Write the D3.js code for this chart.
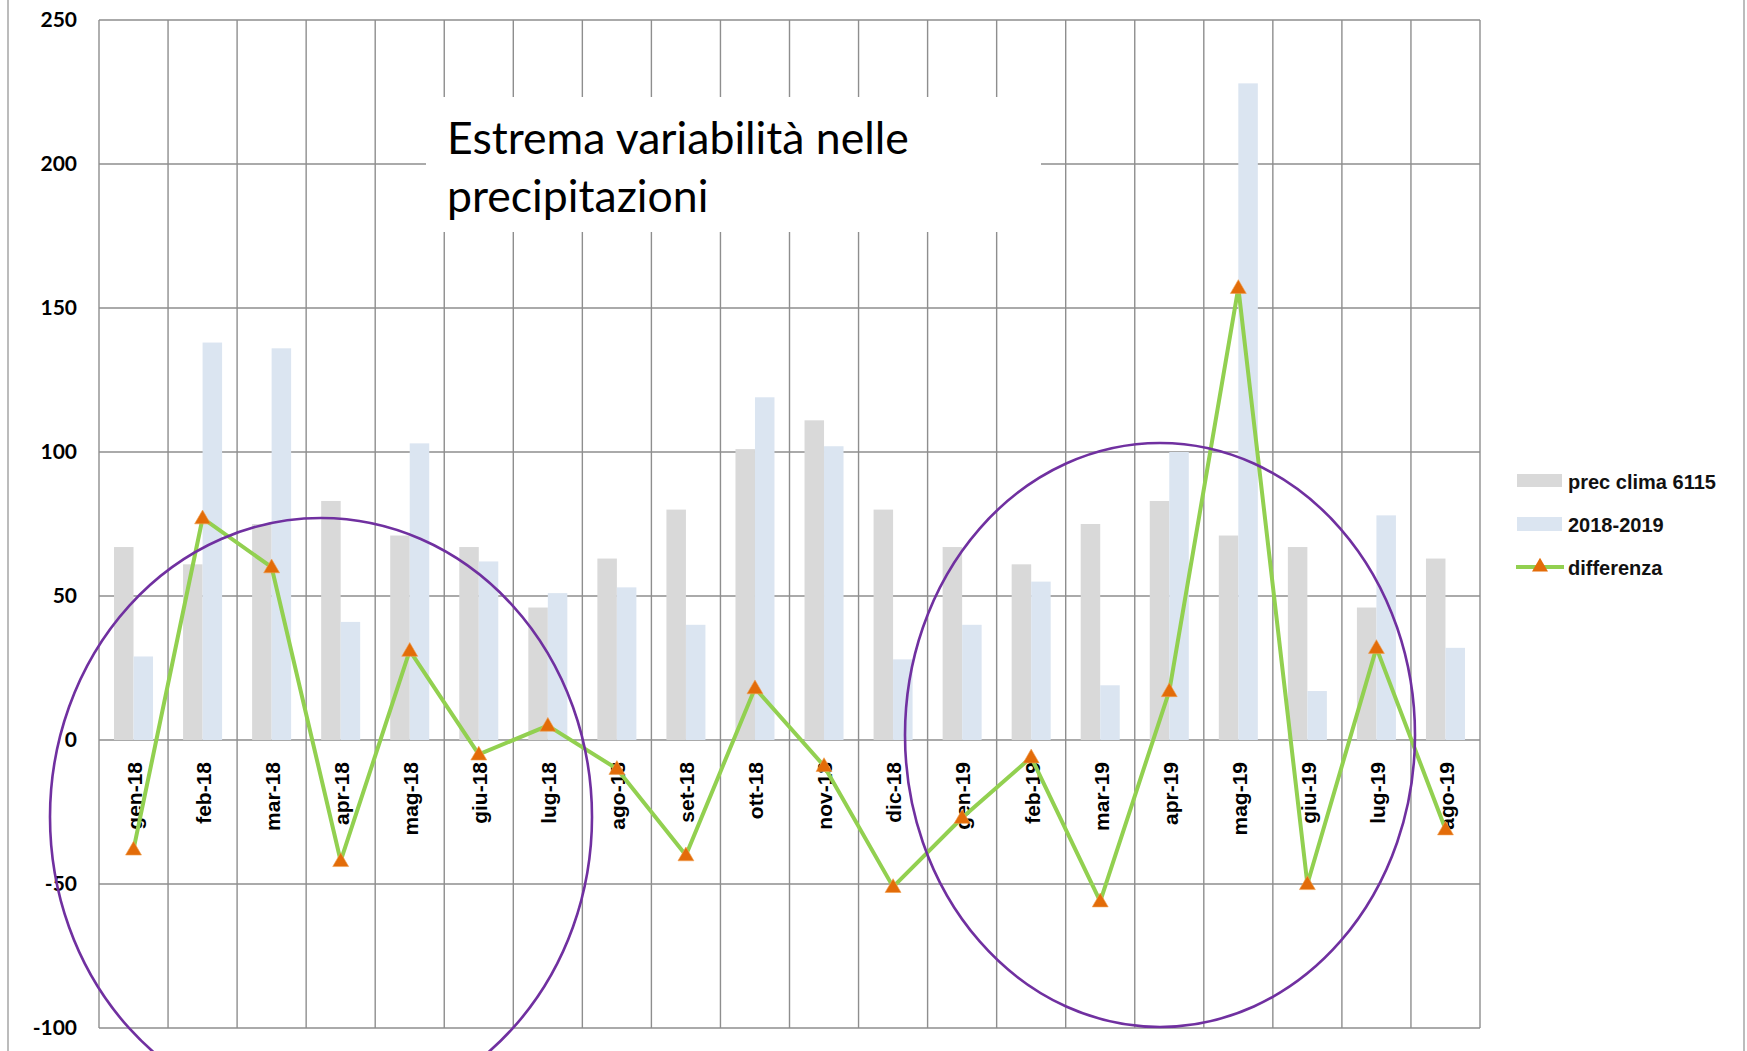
<!DOCTYPE html>
<html>
<head>
<meta charset="utf-8">
<script src="https://cdn.jsdelivr.net/npm/d3@7"></script>
<style>
  html, body { margin: 0; padding: 0; background: #fff; }
  svg { display: block; }
</style>
</head>
<body>
<svg id="chart" width="1747" height="1051"></svg>
<script>
// ---- data ----
const months = ["gen-18","feb-18","mar-18","apr-18","mag-18","giu-18","lug-18","ago-18","set-18","ott-18","nov-18","dic-18",
                "gen-19","feb-19","mar-19","apr-19","mag-19","giu-19","lug-19","ago-19"];
const precClima = [67, 61, 75, 83, 71, 67, 46, 63, 80, 101, 111, 80, 67, 61, 75, 83, 71, 67, 46, 63];
const anno2018_2019 = [29, 138, 136, 41, 103, 62, 51, 53, 40, 119, 102, 28, 40, 55, 19, 100, 228, 17, 78, 32];
const differenza = [-38, 77, 60, -42, 31, -5, 5, -10, -40, 18, -9, -51, -27, -6, -56, 17, 157, -50, 32, -31];
const yTicks = [-100, -50, 0, 50, 100, 150, 200, 250];
const seriesNames = ["prec clima 6115", "2018-2019", "differenza"];
const titleLines = ["Estrema variabilità nelle", "precipitazioni"];

// ---- layout / style ----
const W = 1747, H = 1051;
const plot = { left: 99, right: 1480, top: 20, bottom: 1028 };
const colors = { clima: "#d9d9d9", anno: "#dbe5f1", line: "#92d050", marker: "#e36c09", grid: "#8e8e8e", ellipse: "#7030a0" };

const svg = d3.select("#chart");
svg.append("rect").attr("width", W).attr("height", H).attr("fill", "#fff");

// outer frame (vertical edges)
svg.append("line").attr("x1", 8).attr("x2", 8).attr("y1", 0).attr("y2", H).attr("stroke", "#a6a6a6").attr("stroke-width", 1.5);
svg.append("line").attr("x1", 1744).attr("x2", 1744).attr("y1", 0).attr("y2", H).attr("stroke", "#a6a6a6").attr("stroke-width", 1.5);

const x = d3.scaleBand().domain(months).range([plot.left, plot.right]).paddingInner(0).paddingOuter(0);
const xs = d3.scaleBand().domain(["clima", "anno"]).range([0, x.bandwidth()]).paddingInner(0).paddingOuter(0.77);
const y = d3.scaleLinear().domain([-100, 250]).range([plot.bottom, plot.top]);

// horizontal gridlines
const gGrid = svg.append("g");
gGrid.selectAll("line.h").data(yTicks).join("line")
  .attr("x1", plot.left).attr("x2", plot.right)
  .attr("y1", d => y(d)).attr("y2", d => y(d))
  .attr("stroke", colors.grid).attr("stroke-width", 1.4);
// vertical gridlines at category boundaries
const bounds = months.map(m => x(m)).concat([plot.right]);
gGrid.selectAll("line.v").data(bounds).join("line")
  .attr("x1", d => d).attr("x2", d => d)
  .attr("y1", plot.top).attr("y2", plot.bottom)
  .attr("stroke", colors.grid).attr("stroke-width", 1.4);

// y axis labels
const yAxis = d3.axisLeft(y).tickValues(yTicks).tickSize(0).tickPadding(0).tickFormat(d => String(d));
const gY = svg.append("g").attr("transform", "translate(77,0)").call(yAxis);
gY.select(".domain").remove();
gY.selectAll("text")
  .attr("font-family", "Lato, 'Open Sans', sans-serif")
  .attr("font-weight", "bold").attr("font-size", 21).attr("fill", "#000");

// title box
svg.append("rect").attr("x", 426).attr("y", 97).attr("width", 615).attr("height", 135).attr("fill", "#fff");
const titleG = svg.append("g");
const tt = titleG.selectAll("text").data(titleLines).join("text")
  .attr("x", 447).attr("y", (d, i) => 154 + i * 58)
  .attr("font-family", "Lato, 'Open Sans', sans-serif")
  .attr("font-size", 45).attr("fill", "#000").text(d => d);
// fit first line width to ~462px
const w0 = tt.nodes()[0].getComputedTextLength();
const fs = 45 * 462 / w0;
tt.attr("font-size", fs);

// bars
const gBars = svg.append("g");
gBars.selectAll("rect.clima").data(months).join("rect")
  .attr("x", (d) => x(d) + xs("clima")).attr("width", xs.bandwidth())
  .attr("y", (d, i) => y(precClima[i])).attr("height", (d, i) => y(0) - y(precClima[i]))
  .attr("fill", colors.clima);
gBars.selectAll("rect.anno").data(months).join("rect")
  .attr("x", (d) => x(d) + xs("anno")).attr("width", xs.bandwidth())
  .attr("y", (d, i) => y(anno2018_2019[i])).attr("height", (d, i) => y(0) - y(anno2018_2019[i]))
  .attr("fill", colors.anno);

// x labels (rotated)
const xAxis = d3.axisBottom(x).tickSize(0).tickPadding(0);
const gX = svg.append("g").attr("transform", `translate(0,${y(0)})`).call(xAxis);
gX.select(".domain").remove();
gX.selectAll(".tick text")
  .attr("transform", "translate(1,22) rotate(-90)")
  .attr("x", 0).attr("y", 0).attr("dy", "0.35em")
  .attr("text-anchor", "end")
  .attr("font-family", "'Liberation Sans', Arial, sans-serif")
  .attr("font-weight", "bold").attr("font-size", 21).attr("fill", "#000");

// difference line
const line = d3.line().x((d, i) => x(months[i]) + x.bandwidth() / 2).y(d => y(d));
svg.append("path").datum(differenza).attr("d", line)
  .attr("fill", "none").attr("stroke", colors.line).attr("stroke-width", 4).attr("stroke-linejoin", "round");
const tri = d3.symbol().type(d3.symbolTriangle).size(110);
svg.selectAll("path.mk").data(differenza).join("path")
  .attr("transform", (d, i) => `translate(${x(months[i]) + x.bandwidth() / 2},${y(d) + 1})`)
  .attr("d", tri).attr("fill", colors.marker).attr("stroke", "#f0a050").attr("stroke-width", 0.6);

// annotation ellipses
const ellipses = [
  { cx: 321, cy: 817, rx: 271, ry: 299 },
  { cx: 1160, cy: 735, rx: 255, ry: 292 }
];
svg.selectAll("ellipse").data(ellipses).join("ellipse")
  .attr("cx", d => d.cx).attr("cy", d => d.cy).attr("rx", d => d.rx).attr("ry", d => d.ry)
  .attr("fill", "none").attr("stroke", colors.ellipse).attr("stroke-width", 2.6);

// legend
const lg = svg.append("g");
const rowY = [481, 524, 567];
lg.append("rect").attr("x", 1517).attr("y", rowY[0] - 7).attr("width", 45).attr("height", 13).attr("fill", colors.clima);
lg.append("rect").attr("x", 1517).attr("y", rowY[1] - 7).attr("width", 45).attr("height", 14).attr("fill", colors.anno);
lg.append("line").attr("x1", 1516).attr("x2", 1564).attr("y1", rowY[2]).attr("y2", rowY[2])
  .attr("stroke", colors.line).attr("stroke-width", 4);
lg.append("path").attr("transform", `translate(1540,${rowY[2]})`).attr("d", tri).attr("fill", colors.marker);
lg.selectAll("text").data(seriesNames).join("text")
  .attr("x", 1568).attr("y", (d, i) => rowY[i] + 8)
  .attr("font-family", "'Liberation Sans', Arial, sans-serif")
  .attr("font-weight", "bold").attr("font-size", 20).attr("fill", "#111").text(d => d);
</script>
</body>
</html>
